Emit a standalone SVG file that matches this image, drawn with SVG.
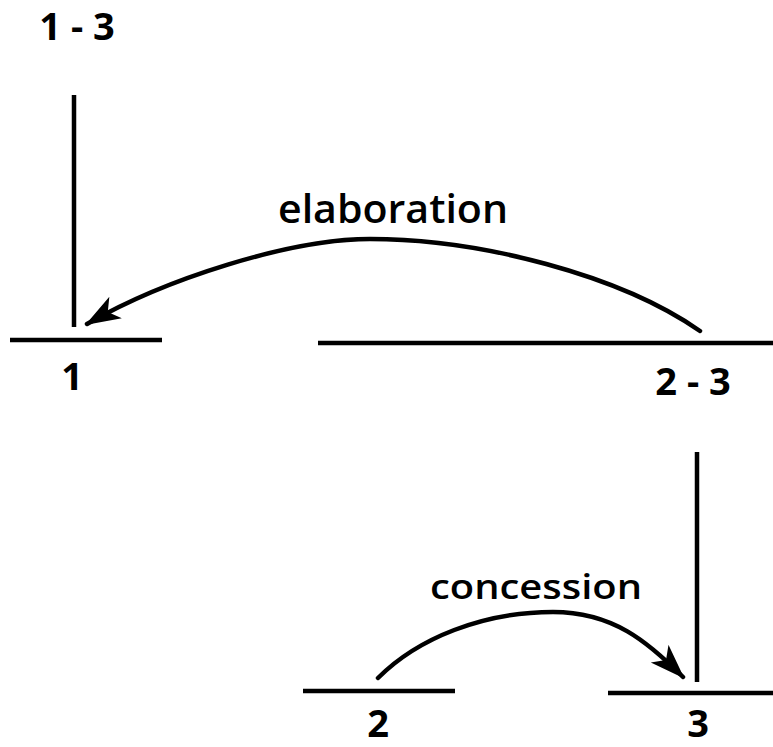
<svg xmlns="http://www.w3.org/2000/svg" width="773" height="747" viewBox="0 0 773 747">
<style>
.ln{stroke:#000;stroke-width:4.5;fill:none}
.arc{stroke:#000;stroke-width:4.5;fill:none;stroke-linecap:round}
.num{font-family:"Open Sans","Liberation Sans",sans-serif;font-weight:700;font-size:38px;fill:#000;text-anchor:middle}
.rel{font-family:"Open Sans","Liberation Sans",sans-serif;font-weight:600;fill:#000}
</style>
<defs>
<marker id="ah" markerUnits="userSpaceOnUse" markerWidth="38" markerHeight="28" refX="33" refY="12.5" orient="auto">
<path d="M0,0 L35,12.5 L0,25 L9,12.5 Z" fill="#000"/>
</marker>
</defs>
<rect width="773" height="747" fill="#fff"/>
<g id="n13">
<text class="num" x="77" y="40">1 - 3</text>
<line class="ln" x1="74" y1="95" x2="74" y2="327"/>
</g>
<g id="n1">
<line class="ln" x1="10" y1="340" x2="162" y2="340"/>
<text class="num" x="72" y="390">1</text>
</g>
<g id="n23">
<line class="ln" x1="318" y1="343" x2="773" y2="343"/>
<text class="num" x="693" y="395">2 - 3</text>
<line class="ln" x1="697" y1="452" x2="697" y2="682"/>
</g>
<g id="n2">
<line class="ln" x1="303" y1="691" x2="455" y2="691"/>
<text class="num" x="378" y="737" font-size="35">2</text>
</g>
<g id="n3">
<line class="ln" x1="608" y1="693" x2="773" y2="693"/>
<text class="num" x="698" y="737" font-size="35">3</text>
</g>
<g id="connectors">
<path class="arc" d="M700,331 C620,275 480,239 370,239 C290,239 165,279 87,324" marker-end="url(#ah)"/>
<text class="rel" x="278" y="223" font-size="40" textLength="230" lengthAdjust="spacingAndGlyphs">elaboration</text>
<path class="arc" d="M378,678 C418,638 483,612 553,612 C613,612 648,642 683,677" marker-end="url(#ah)"/>
<text class="rel" x="430" y="599" font-size="35" textLength="212" lengthAdjust="spacingAndGlyphs">concession</text>
</g>
</svg>
